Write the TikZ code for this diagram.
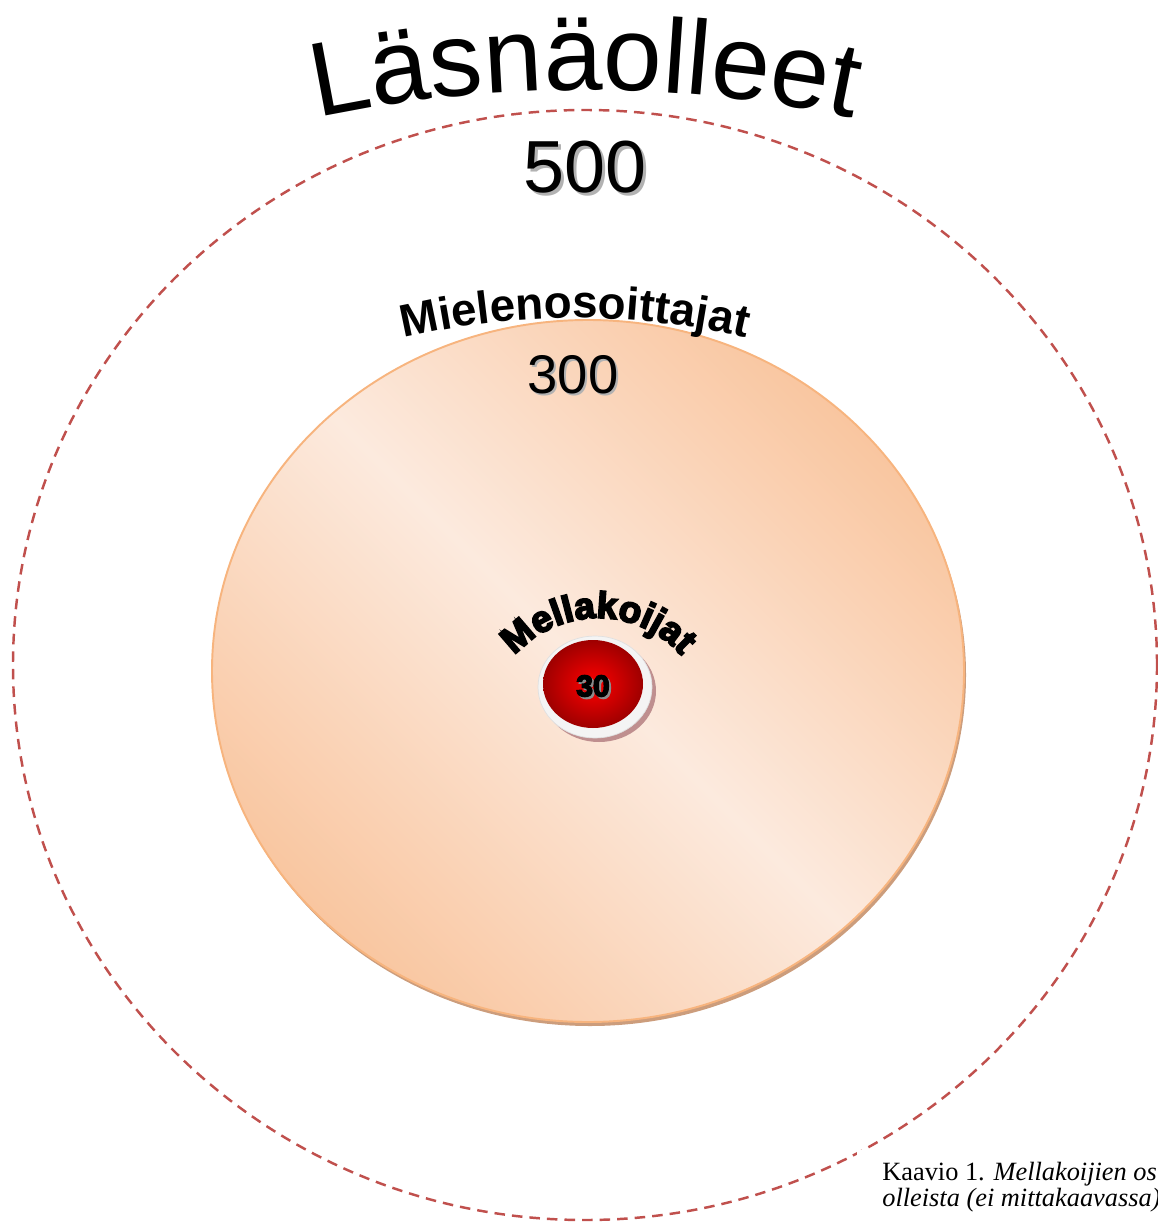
\documentclass[tikz,border=0pt]{standalone}
\usepackage{fontspec}
\setmainfont{Liberation Serif}
\newfontfamily\arialfont{Liberation Sans}
\newfontfamily\arialblack[FakeBold=5]{Liberation Sans Bold}
\usepackage{tikz}
\usetikzlibrary{decorations.text, calc}
\usepackage{xcolor}

\definecolor{ringred}{HTML}{C0504D}
\definecolor{peachdark}{HTML}{F9C6A0}
\definecolor{peachlight}{HTML}{FCEADE}
\definecolor{peachline}{HTML}{F7B47E}
\definecolor{peachshadow}{HTML}{CC9D7C}
\definecolor{buttonshadow}{HTML}{BF8F8F}
\definecolor{buttonring}{HTML}{F4F4F4}

\pgfdeclarehorizontalshading{peachband}{100bp}{color(0bp)=(peachdark); color(25bp)=(peachdark); color(50bp)=(peachlight); color(75bp)=(peachdark); color(100bp)=(peachdark)}

\begin{document}
\begin{tikzpicture}[
    x=0.02cm, y=0.02cm,
    numtext/.style={font=\arialfont\fontsize{#1}{#1}\selectfont, inner sep=0pt},
    numshade/.style={numtext=#1, text=black!30},
    arctext/.style={decorate, decoration={text along path, text align=center, text={#1}}}
]
    \useasboundingbox (0,-1223) rectangle (1157,0);

    % ulompi rengas: läsnäolleet
    \draw[ringred, line width=1.4pt, dash pattern=on 6pt off 4pt] (585,-665) ellipse (572 and 555);

    % mielenosoittajat
    \fill[peachshadow] (590,-675) ellipse (376 and 351);
    \shade[shading=peachband, shading angle=45, draw=peachline, line width=1.1pt] (588,-671) ellipse (376 and 351);

    % mellakoijat
    \fill[buttonshadow] (599,-691) ellipse (57 and 51);
    \fill[buttonring, draw=black!12] (595,-687) ellipse (57 and 51);
    \shade[inner color=red, outer color=red!62!black] (593,-684) ellipse (50 and 44);

    % luvut
    \node[numshade=42] (s500) at (588,-170) {500};
    \node[numtext=42] (n500) at (585,-167) {500};
    \node[numshade=31] (s300) at (575,-377) {300};
    \node[numtext=31] (n300) at (573,-375) {300};
    \node[inner sep=0pt, font=\arialblack\fontsize{17}{17}\selectfont, text=black!45] (s30) at (595,-688) {30};
    \node[inner sep=0pt, font=\arialblack\fontsize{17}{17}\selectfont] (n30) at (593,-686) {30};

    % kaarevat otsikot
    \path[arctext={|\arialfont\fontsize{60}{60}\selectfont|Läsnäolleet}]
        (585,-1390) ++(110:1300) arc[start angle=110, end angle=70, radius=1300];
    \path[arctext={|\arialfont\bfseries\fontsize{26}{26}\selectfont|Mielenosoittajat}]
        (575,-1068) ++(110:750) arc[start angle=110, end angle=70, radius=750];
    \path[arctext={|\arialblack\fontsize{21}{21}\selectfont|Mellakoijat}]
        (598,-729) ++(160:111) arc[start angle=160, end angle=20, radius=111];

    % kuvateksti
    \fill[white] (857,-1150) rectangle (1157,-1223);
    \node[anchor=base west, inner sep=0pt, align=left, font=\fontsize{15}{13}\selectfont] (caption) at (882,-1206)
        {Kaavio 1. \textit{Mellakoijien osuus}\\\textit{olleista (ei mittakaavassa)}};
\end{tikzpicture}
\end{document}
